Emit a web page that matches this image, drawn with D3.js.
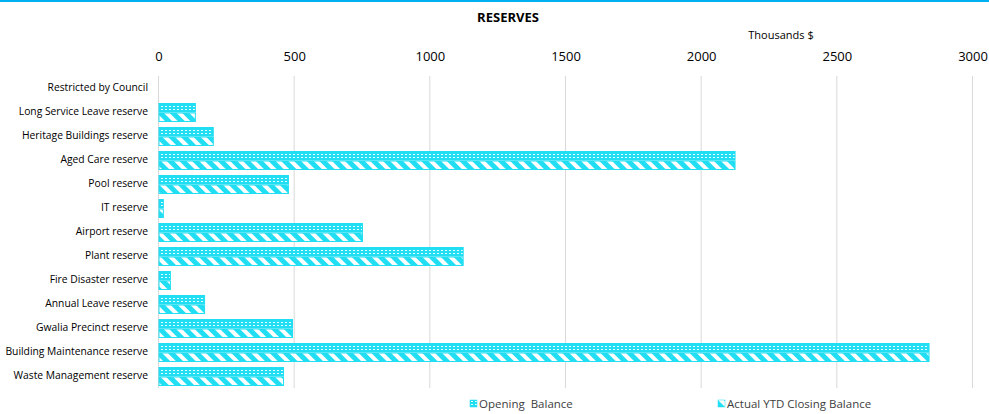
<!doctype html>
<meta charset="utf-8">
<title>Reserves</title>
<style>
body { margin: 0; background: #fff; }
svg { font-family: "Open Sans", sans-serif; }
</style>
<script src="https://cdn.jsdelivr.net/npm/d3@7"></script>
<body>
<script>
// values in thousands $
var categories = ["Restricted by Council", "Long Service Leave reserve", "Heritage Buildings reserve",
  "Aged Care reserve", "Pool reserve", "IT reserve", "Airport reserve", "Plant reserve",
  "Fire Disaster reserve", "Annual Leave reserve", "Gwalia Precinct reserve",
  "Building Maintenance reserve", "Waste Management reserve"];
var opening = [0, 134, 200, 2123, 477, 16, 750, 1121, 42, 168, 492, 2838, 459];
var closing = [0, 134, 200, 2123, 477, 16, 750, 1121, 42, 168, 492, 2838, 459];
var ticks = [0, 500, 1000, 1500, 2000, 2500, 3000];
var seriesNames = ["Opening  Balance", "Actual YTD Closing Balance"];

var W = 989, H = 414;
var cyan = "#22def3";

var svg = d3.select("body").append("svg").attr("width", W).attr("height", H);

var defs = svg.append("defs");
// dotted fill for opening balance
var p1 = defs.append("pattern").attr("id", "dots")
  .attr("patternUnits", "userSpaceOnUse").attr("width", 4).attr("height", 3);
p1.append("rect").attr("width", 4).attr("height", 3).attr("fill", cyan);
p1.append("rect").attr("x", 1).attr("y", 1).attr("width", 2).attr("height", 1).attr("fill", "#e8fbff");
// wide diagonal stripes for closing balance
var p2 = defs.append("pattern").attr("id", "stripes")
  .attr("patternUnits", "userSpaceOnUse").attr("width", 9).attr("height", 9)
  .attr("patternTransform", "rotate(-45)");
p2.append("rect").attr("width", 9).attr("height", 9).attr("fill", cyan);
p2.append("rect").attr("width", 4).attr("height", 9).attr("fill", "#fff");

svg.append("rect").attr("width", W).attr("height", 2).attr("fill", "#00b0f0");

var x = d3.scaleLinear().domain([0, 3000]).range([158.5, 972.5]);
var y = d3.scaleBand().domain(categories).range([76, 388]);

svg.append("text").attr("x", 508).attr("y", 22).attr("text-anchor", "middle")
  .attr("font-weight", "bold").attr("font-size", 13).text("RESERVES");
svg.append("text").attr("x", 781).attr("y", 39).attr("text-anchor", "middle")
  .attr("font-size", 11).text("Thousands $");

// gridlines
svg.append("g").selectAll("line").data(ticks).join("line")
  .attr("x1", d => x(d)).attr("x2", d => x(d))
  .attr("y1", 76).attr("y2", 388)
  .attr("stroke", "#d9d9d9").attr("stroke-width", 1);

var xAxis = svg.append("g").attr("transform", "translate(0,61)")
  .call(d3.axisTop(x).tickValues(ticks).tickFormat(d3.format("d")).tickSize(0).tickPadding(0));
xAxis.select(".domain").remove();
xAxis.selectAll("text").attr("font-family", "Open Sans").attr("font-size", 13).attr("fill", "#000");

var yAxis = svg.append("g").attr("transform", "translate(148,0)")
  .call(d3.axisLeft(y).tickSize(0).tickPadding(0));
yAxis.select(".domain").remove();
yAxis.selectAll("text").attr("font-family", "Open Sans").attr("font-size", 10.3).attr("fill", "#000");

var inner = d3.scaleBand().domain([0, 1]).range([3, y.bandwidth() - 2]).paddingInner(0);

var series = [opening, closing];
var fills = ["url(#dots)", "url(#stripes)"];
series.forEach(function (vals, s) {
  svg.append("g").selectAll("rect").data(vals).join("rect")
    .attr("display", d => d > 0 ? null : "none")
    .attr("x", x(0) + 0.5)
    .attr("y", (d, i) => y(categories[i]) + inner(s) + 0.5)
    .attr("width", d => x(d) - x(0))
    .attr("height", inner.bandwidth() - 1)
    .attr("fill", fills[s])
    .attr("stroke", cyan).attr("stroke-width", 1);
});

// legend
var legX = [470, 718];
var leg = svg.append("g").selectAll("g").data(seriesNames).join("g")
  .attr("transform", (d, i) => "translate(" + legX[i] + ",400)");
leg.append("rect").attr("width", 7).attr("height", 7).attr("fill", (d, i) => fills[i])
  .attr("stroke", cyan).attr("stroke-width", 0.5);
leg.append("text").attr("x", 9).attr("y", 8).attr("font-size", 11.5).attr("fill", "#404040")
  .style("white-space", "pre").text(d => d);
</script>
</body>
